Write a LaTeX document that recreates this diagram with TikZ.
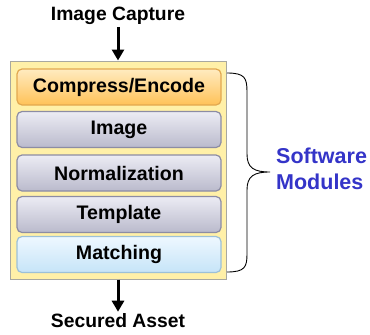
\documentclass[tikz,border=0pt]{standalone}
\usepackage{fontspec}
\setmainfont{Liberation Sans}
\usetikzlibrary{arrows.meta}
\definecolor{framefill}{HTML}{FFF0A8}
\definecolor{frameline}{HTML}{A8A8A0}
\definecolor{orangetop}{HTML}{FFEBC0}
\definecolor{orangebot}{HTML}{FFC258}
\definecolor{orangeline}{HTML}{E2A850}
\definecolor{greytop}{HTML}{ECECF4}
\definecolor{greybot}{HTML}{BABACC}
\definecolor{greyline}{HTML}{8C8CA4}
\definecolor{bluetop}{HTML}{EEF8FF}
\definecolor{bluebot}{HTML}{C6E4F8}
\definecolor{blueline}{HTML}{9CC0D8}
\definecolor{labelblue}{HTML}{3434C8}
\begin{document}
\begin{tikzpicture}[x=1pt,y=-1pt,
  caption/.style={font=\bfseries\fontsize{19.3}{22}\selectfont, inner sep=2pt},
  module/.style={rounded corners=5pt, minimum width=204pt, minimum height=36pt,
    line width=1.2pt, font=\bfseries\fontsize{19.6}{22}\selectfont},
  orangemod/.style={module, draw=orangeline, top color=orangetop, bottom color=orangebot},
  greymod/.style={module, draw=greyline, top color=greytop, bottom color=greybot},
  bluemod/.style={module, draw=blueline, top color=bluetop, bottom color=bluebot},
  flow/.style={line width=3pt, -{Triangle[length=11pt,width=12pt]}}
]
\useasboundingbox (0,0) rectangle (370,335);

% container of the software modules
\node[draw=frameline, fill=framefill, line width=1pt,
      minimum width=216pt, minimum height=218pt, inner sep=0pt] (frame) at (118,170) {};

\node[orangemod] (compress) at (119,87)  {Compress/Encode};
\node[greymod]   (image)    at (119,129.5) {Image};
\node[greymod]   (norm)     at (119,173) {Normalization};
\node[greymod]   (templ)    at (119,214.5) {Template};
\node[bluemod]   (match)    at (119,254.5) {Matching};

% input and output
\node[caption] (capture) at (118,16) {Image Capture};
\node[caption] (asset)   at (118,321) {Secured Asset};
\draw[flow] (capture.south) -- (frame.north);
\draw[flow] (frame.south) -- (asset.north);

% brace grouping the modules
\coordinate (btop) at (227,73);
\coordinate (bbot) at (227,272);
\coordinate (btip) at (270,172);
\draw[line width=0.9pt]
  (btop) .. controls (245,73) and (247,78) .. (247,92)
  -- (247,154) .. controls (247,168) and (254,172) .. (btip)
  .. controls (254,172) and (247,176) .. (247,190)
  -- (247,254) .. controls (247,267) and (245,272) .. (bbot);

\node[anchor=west, align=left, text=labelblue,
      font=\bfseries\fontsize{21.5}{26.5}\selectfont, inner sep=0pt] (label) at (276,169)
  {Software\\Modules};
\end{tikzpicture}
\end{document}
